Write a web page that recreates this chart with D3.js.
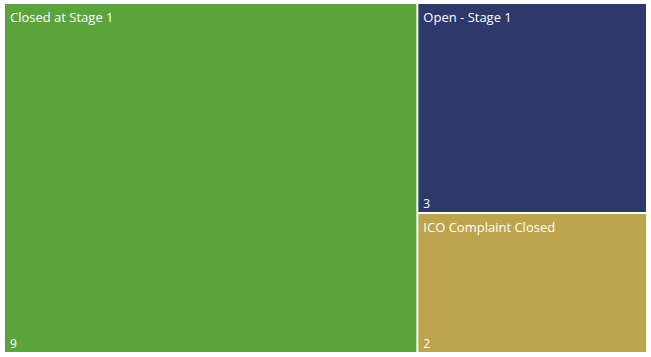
<!DOCTYPE html>
<html><head><meta charset="utf-8">
<script src="https://cdn.jsdelivr.net/npm/d3@7"></script>
<style>html,body{margin:0;padding:0;background:#fff;overflow:hidden}svg{display:block}</style>
</head><body><svg id="c" width="651" height="357"></svg>
<script>
const categories = ["Closed at Stage 1", "Open - Stage 1", "ICO Complaint Closed"];
const values = [9, 3, 2];
const colors = ["#5BA33B", "#2E386B", "#BDA44D"];

const svg = d3.select("#c");
const root = d3.hierarchy({children: categories.map((c, i) => ({name: c, value: values[i], color: colors[i]}))})
  .sum(d => d.value || 0);
d3.treemap().tile(d3.treemapSquarify).size([641, 348]).paddingInner(2).round(false)(root);

const g = svg.append("g").attr("transform", "translate(5,4)");
const cell = g.selectAll("g").data(root.leaves()).join("g")
  .attr("transform", d => `translate(${d.x0},${d.y0})`);
cell.append("rect")
  .attr("width", d => d.x1 - d.x0)
  .attr("height", d => d.y1 - d.y0)
  .attr("fill", d => d.data.color);
cell.append("text").attr("x", 5).attr("y", 18)
  .attr("fill", "#fff").style("font-family", "'Segoe UI','Open Sans',sans-serif").style("font-size", "13px")
  .text(d => d.data.name);
cell.append("text").attr("x", 5).attr("y", d => d.y1 - d.y0 - 4)
  .attr("fill", "#fff").style("font-family", "'Segoe UI','Open Sans',sans-serif").style("font-size", "12px")
  .text(d => d.data.value);
</script></body></html>
